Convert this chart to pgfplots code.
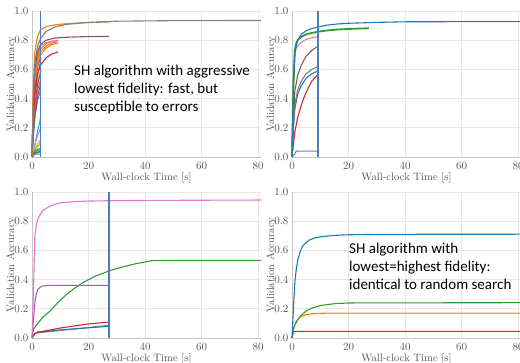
\documentclass[border=0pt]{standalone}
\usepackage{pgfplots}
\pgfplotsset{compat=1.18}
\usepackage{fontspec}
\newfontfamily\anno{Carlito}
\definecolor{tbblue}{HTML}{1F77B4}
\definecolor{tborange}{HTML}{FF7F0E}
\definecolor{tbgreen}{HTML}{2CA02C}
\definecolor{tbred}{HTML}{D62728}
\definecolor{tbpurple}{HTML}{9467BD}
\definecolor{tbbrown}{HTML}{8C564B}
\definecolor{tbpink}{HTML}{E377C2}
\definecolor{tbgray}{HTML}{7F7F7F}
\definecolor{tbolive}{HTML}{BCBD22}
\definecolor{tbcyan}{HTML}{17BECF}
\definecolor{vline}{RGB}{72,126,194}
\definecolor{txt}{RGB}{85,85,85}
\pgfplotsset{
  panel/.style={
    width=229pt, height=146pt, scale only axis,
    xmin=0, xmax=81, ymin=0, ymax=1,
    xtick={0,20,40,60,80}, ytick={0,0.2,0.4,0.6,0.8,1.0},
    yticklabel style={/pgf/number format/fixed,/pgf/number format/fixed zerofill,/pgf/number format/precision=1},
    xticklabel style={yshift=-1.5pt},
    grid=major, major grid style={draw=gray!18, line width=0.6pt},
    axis lines=left, axis line style={-, draw=gray!45, line width=0.6pt},
    major tick length=0pt,
    tick label style={font=\fontsize{10.5}{12}\selectfont, text=txt},
    label style={font=\fontsize{10.7}{12}\selectfont, text=txt, inner sep=0.5pt},
    xlabel={Wall-clock Time [s]}, ylabel={Validation Accuracy},
    xlabel style={at={(axis description cs:0.5,-0.143)}, anchor=center},
    ylabel style={at={(axis description cs:-0.09,0.5)}, anchor=center},
    anchor=south west, clip=false,
  },
  cl/.style={draw=#1, line width=1.1pt, no markers},
  vl/.style={draw=vline, line width=1.4pt, no markers},
}
\begin{document}
\begin{tikzpicture}
\path[use as bounding box] (0pt,0pt) rectangle (520pt,362pt);
% ---------------- top left ----------------
\begin{axis}[panel, at={(32pt,205pt)}]
% short runs (end at ~3.1 s)
\addplot[cl=tbpink] coordinates {(0,0)(0.5,0.35)(1,0.55)(2,0.68)(3.1,0.74)};
\addplot[cl=tbpink] coordinates {(0,0)(0.5,0.3)(1,0.5)(2,0.64)(3.1,0.71)};
\addplot[cl=tbred] coordinates {(0,0)(0.5,0.25)(1,0.42)(2,0.57)(3.1,0.65)};
\addplot[cl=tbred] coordinates {(0,0)(0.5,0.2)(1,0.35)(2,0.5)(3.1,0.59)};
\addplot[cl=tbgray] coordinates {(0,0)(0.5,0.2)(1,0.33)(2,0.46)(3.1,0.53)};
\addplot[cl=tbpurple] coordinates {(0,0)(0.5,0.15)(1,0.27)(2,0.39)(3.1,0.46)};
\addplot[cl=tbbrown] coordinates {(0,0)(0.5,0.15)(1,0.28)(2,0.42)(3.1,0.5)};
\addplot[cl=tbcyan] coordinates {(0,0)(1,0.08)(2,0.18)(3.1,0.27)};
\addplot[cl=tbpink] coordinates {(0,0)(1,0.08)(2,0.15)(3.1,0.2)};
\addplot[cl=tbolive] coordinates {(0,0)(1,0.05)(2,0.09)(3.1,0.12)};
\addplot[cl=tbolive] coordinates {(0,0)(1,0.04)(2,0.07)(3.1,0.1)};
\addplot[cl=tbgreen] coordinates {(0,0)(1,0.04)(2,0.05)(3.1,0.06)};
\addplot[cl=tbcyan] coordinates {(0,0)(1,0.03)(2,0.04)(3.1,0.05)};
\addplot[cl=tbblue] coordinates {(0,0)(1,0.02)(2,0.03)(3.1,0.04)};
\addplot[cl=tbgreen] coordinates {(0,0)(0.5,0.03)(3.1,0.035)};
\addplot[cl=tborange] coordinates {(0,0)(0.5,0.4)(1,0.6)(2,0.72)(3.1,0.77)};
\addplot[cl=tbblue] coordinates {(0,0)(0.5,0.3)(1,0.5)(2,0.62)(3.1,0.68)};
\addplot[cl=tbpurple] coordinates {(0,0)(1,0.02)(3.1,0.02)};
% medium runs (end at ~9.2 s)
\addplot[cl=tborange] coordinates {(0,0)(0.5,0.4)(1,0.58)(2,0.7)(3,0.74)(5,0.775)(7,0.79)(9.2,0.80)};
\addplot[cl=tborange] coordinates {(0,0)(0.5,0.35)(1,0.55)(2,0.67)(3,0.72)(5,0.76)(7,0.78)(9.2,0.79)};
\addplot[cl=tborange] coordinates {(0,0)(0.5,0.35)(1,0.52)(2,0.64)(3,0.7)(5,0.745)(7,0.77)(9.2,0.78)};
\addplot[cl=tbred] coordinates {(0,0)(0.5,0.3)(1,0.45)(2,0.57)(3,0.63)(5,0.68)(7,0.705)(9.2,0.72)};
\addplot[cl=tbpink] coordinates {(0,0)(0.5,0.4)(1,0.6)(2,0.72)(3,0.76)(5,0.785)(9.2,0.80)};
% long runs (end at ~27.2 s)
\addplot[cl=tbbrown] coordinates {(0,0)(0.5,0.4)(1,0.6)(2,0.72)(3,0.77)(5,0.8)(8,0.815)(12,0.82)(20,0.825)(27.2,0.826)};
\addplot[cl=tborange] coordinates {(0,0)(0.5,0.5)(1,0.72)(2,0.83)(3,0.87)(5,0.893)(8,0.905)(12,0.913)(20,0.921)(27.2,0.925)};
% full run
\addplot[cl=tbgray] coordinates {(0,0)(0.5,0.45)(1,0.65)(2,0.76)(3,0.81)(5,0.86)(8,0.89)(12,0.908)(20,0.922)(30,0.93)(50,0.934)(81,0.935)};
\addplot[vl] coordinates {(3.1,0)(3.1,1)};
\end{axis}
% ---------------- top right ----------------
\begin{axis}[panel, at={(292pt,205pt)}]
\addplot[cl=tbpurple] coordinates {(0,0)(1,0.02)(1.5,0.04)(9.2,0.04)};
\addplot[cl=tbred] coordinates {(0,0)(1,0.17)(2,0.27)(3.3,0.356)(4.5,0.42)(5.65,0.47)(7,0.52)(9.2,0.565)};
\addplot[cl=tbblue] coordinates {(0,0)(0.5,0.2)(1,0.33)(2,0.43)(3.3,0.49)(5,0.54)(7,0.57)(9.2,0.59)};
\addplot[cl=tbgray] coordinates {(0,0)(0.5,0.22)(1,0.36)(2,0.46)(3.3,0.52)(5,0.57)(7,0.6)(9.2,0.62)};
\addplot[cl=tbbrown] coordinates {(0,0)(0.5,0.25)(1,0.45)(2,0.56)(3.3,0.63)(5,0.69)(7,0.73)(9.2,0.758)};
\addplot[cl=tbpink] coordinates {(0,0)(0.5,0.5)(1,0.7)(1.5,0.745)(2,0.76)(3.3,0.785)(5,0.805)(7,0.816)(9.2,0.824)};
\addplot[cl=tbgreen, line width=1.8pt] coordinates {(0,0)(0.5,0.5)(1,0.73)(1.5,0.78)(2,0.8)(3,0.82)(5,0.84)(7,0.85)(9.2,0.858)(12,0.866)(16,0.873)(20,0.877)(27.2,0.882)};
\addplot[cl=tbblue] coordinates {(0,0)(0.5,0.5)(1,0.72)(2,0.8)(3.3,0.84)(5,0.865)(7,0.88)(9.2,0.89)(12,0.902)(16,0.911)(20,0.916)(30,0.922)(40,0.926)(60,0.927)(81,0.927)};
\addplot[vl] coordinates {(9.2,0)(9.2,1)};
\end{axis}
% ---------------- bottom left ----------------
\begin{axis}[panel, at={(32pt,24pt)}]
\addplot[cl=tbgray] coordinates {(0,0)(1,0.03)(2,0.035)(10,0.052)(20,0.072)(27.2,0.087)};
\addplot[cl=tbblue] coordinates {(0,0)(1,0.03)(2,0.04)(10,0.055)(20,0.07)(27.2,0.08)};
\addplot[cl=tbred] coordinates {(0,0)(1,0.03)(2,0.04)(5,0.05)(10,0.068)(15,0.083)(20,0.096)(27.2,0.11)};
\addplot[cl=tbgreen] coordinates {(0,0)(0.5,0.06)(2,0.1)(4,0.145)(6.4,0.185)(9,0.24)(12.3,0.3)(15,0.34)(18.1,0.38)(22,0.42)(27.3,0.46)(32,0.487)(37,0.51)(42.5,0.53)(81,0.53)};
\addplot[cl=tbpurple] coordinates {(0,0)(0.5,0.12)(1,0.24)(1.5,0.3)(2,0.33)(3,0.35)(4,0.357)(6,0.36)(27.2,0.36)};
\addplot[cl=tbpink] coordinates {(0,0)(0.5,0.3)(1,0.7)(1.5,0.77)(2,0.81)(3,0.85)(4,0.875)(6,0.9)(8,0.915)(10,0.925)(15,0.934)(20,0.938)(30,0.941)(50,0.943)(81,0.945)};
\addplot[vl] coordinates {(27.2,0)(27.2,1)};
\end{axis}
% ---------------- bottom right ----------------
\begin{axis}[panel, at={(292pt,24pt)}]
\addplot[cl=tbred] coordinates {(0,0)(0.5,0.04)(1,0.045)(81,0.045)};
\addplot[cl=tborange] coordinates {(0,0)(0.5,0.06)(1,0.09)(2,0.125)(3,0.145)(5,0.16)(8,0.168)(12,0.17)(81,0.17)};
\addplot[cl=tbgreen] coordinates {(0,0)(0.5,0.06)(1,0.09)(2,0.125)(3,0.15)(5,0.185)(7,0.205)(10,0.222)(15,0.235)(20,0.24)(81,0.242)};
\addplot[cl=tbblue] coordinates {(0,0)(0.5,0.2)(1,0.38)(1.5,0.47)(2,0.53)(3,0.6)(4,0.635)(6,0.67)(8,0.685)(10,0.693)(15,0.703)(20,0.707)(30,0.71)(81,0.711)};
\addplot[vl] coordinates {(80.8,0)(80.8,1)};
\end{axis}
% annotations
\node[anchor=west, align=left, inner sep=0pt, font=\anno\fontsize{15}{18}\selectfont] at (74pt,272.5pt)
  {SH algorithm with aggressive\\lowest fidelity: fast, but\\susceptible to errors};
\node[anchor=west, align=left, inner sep=0pt, font=\anno\fontsize{15}{18}\selectfont] at (349pt,96pt)
  {SH algorithm with\\lowest=highest fidelity:\\identical to random search};
\end{tikzpicture}
\end{document}
